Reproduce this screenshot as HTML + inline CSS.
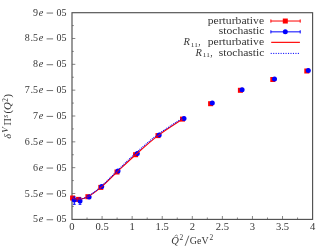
<!DOCTYPE html>
<html><head><meta charset="utf-8">
<style>
html,body{margin:0;padding:0;background:#fff;}
body{width:332px;height:249px;overflow:hidden;}
svg{display:block;will-change:transform;}
text{font-family:"Liberation Serif",serif;fill:#363636;}
.i{font-style:italic;}
</style></head><body>
<svg width="332" height="249" viewBox="0 0 332 249">
<rect width="332" height="249" fill="#fff"/>
<rect x="72.0" y="12.7" width="240.6" height="206.7" fill="none" stroke="#505050" stroke-width="1.15"/>
<path d="M72.0 38.49h3.3M72.0 64.33h3.3M72.0 90.16h3.3M72.0 116.00h3.3M72.0 141.84h3.3M72.0 167.67h3.3M72.0 193.51h3.3M72.0 25.57h1.8M72.0 51.41h1.8M72.0 77.24h1.8M72.0 103.08h1.8M72.0 128.92h1.8M72.0 154.76h1.8M72.0 180.59h1.8M72.0 206.43h1.8M102.08 219.3v-3.3M132.15 219.3v-3.3M162.23 219.3v-3.3M192.30 219.3v-3.3M222.38 219.3v-3.3M252.45 219.3v-3.3M282.53 219.3v-3.3M87.04 219.3v-1.8M117.11 219.3v-1.8M147.19 219.3v-1.8M177.26 219.3v-1.8M207.34 219.3v-1.8M237.41 219.3v-1.8M267.49 219.3v-1.8M297.56 219.3v-1.8" stroke="#5c5c5c" stroke-width="0.75" fill="none"/>
<g font-size="10.6">
<text x="33.1" y="15.65" textLength="5" lengthAdjust="spacingAndGlyphs">9</text>
<text x="38.7" y="15.65" class="i" font-size="10.3">e</text>
<path d="M46.6 13.05h6.5" stroke="#363636" stroke-width="0.7"/>
<text x="56.5" y="15.65" textLength="10" lengthAdjust="spacingAndGlyphs">05</text>
<text x="24.8" y="41.49" textLength="5" lengthAdjust="spacingAndGlyphs">8</text>
<text x="30.4" y="41.49">.</text>
<text x="33.1" y="41.49" textLength="5" lengthAdjust="spacingAndGlyphs">5</text>
<text x="38.7" y="41.49" class="i" font-size="10.3">e</text>
<path d="M46.6 38.89h6.5" stroke="#363636" stroke-width="0.7"/>
<text x="56.5" y="41.49" textLength="10" lengthAdjust="spacingAndGlyphs">05</text>
<text x="33.1" y="67.33" textLength="5" lengthAdjust="spacingAndGlyphs">8</text>
<text x="38.7" y="67.33" class="i" font-size="10.3">e</text>
<path d="M46.6 64.73h6.5" stroke="#363636" stroke-width="0.7"/>
<text x="56.5" y="67.33" textLength="10" lengthAdjust="spacingAndGlyphs">05</text>
<text x="24.8" y="93.16" textLength="5" lengthAdjust="spacingAndGlyphs">7</text>
<text x="30.4" y="93.16">.</text>
<text x="33.1" y="93.16" textLength="5" lengthAdjust="spacingAndGlyphs">5</text>
<text x="38.7" y="93.16" class="i" font-size="10.3">e</text>
<path d="M46.6 90.56h6.5" stroke="#363636" stroke-width="0.7"/>
<text x="56.5" y="93.16" textLength="10" lengthAdjust="spacingAndGlyphs">05</text>
<text x="33.1" y="119.00" textLength="5" lengthAdjust="spacingAndGlyphs">7</text>
<text x="38.7" y="119.00" class="i" font-size="10.3">e</text>
<path d="M46.6 116.40h6.5" stroke="#363636" stroke-width="0.7"/>
<text x="56.5" y="119.00" textLength="10" lengthAdjust="spacingAndGlyphs">05</text>
<text x="24.8" y="144.84" textLength="5" lengthAdjust="spacingAndGlyphs">6</text>
<text x="30.4" y="144.84">.</text>
<text x="33.1" y="144.84" textLength="5" lengthAdjust="spacingAndGlyphs">5</text>
<text x="38.7" y="144.84" class="i" font-size="10.3">e</text>
<path d="M46.6 142.24h6.5" stroke="#363636" stroke-width="0.7"/>
<text x="56.5" y="144.84" textLength="10" lengthAdjust="spacingAndGlyphs">05</text>
<text x="33.1" y="170.67" textLength="5" lengthAdjust="spacingAndGlyphs">6</text>
<text x="38.7" y="170.67" class="i" font-size="10.3">e</text>
<path d="M46.6 168.07h6.5" stroke="#363636" stroke-width="0.7"/>
<text x="56.5" y="170.67" textLength="10" lengthAdjust="spacingAndGlyphs">05</text>
<text x="24.8" y="196.51" textLength="5" lengthAdjust="spacingAndGlyphs">5</text>
<text x="30.4" y="196.51">.</text>
<text x="33.1" y="196.51" textLength="5" lengthAdjust="spacingAndGlyphs">5</text>
<text x="38.7" y="196.51" class="i" font-size="10.3">e</text>
<path d="M46.6 193.91h6.5" stroke="#363636" stroke-width="0.7"/>
<text x="56.5" y="196.51" textLength="10" lengthAdjust="spacingAndGlyphs">05</text>
<text x="33.1" y="222.35" textLength="5" lengthAdjust="spacingAndGlyphs">5</text>
<text x="38.7" y="222.35" class="i" font-size="10.3">e</text>
<path d="M46.6 219.75h6.5" stroke="#363636" stroke-width="0.7"/>
<text x="56.5" y="222.35" textLength="10" lengthAdjust="spacingAndGlyphs">05</text>
</g>
<g font-size="10.6" text-anchor="middle">
<text x="72.00" y="229.9">0</text>
<text x="102.08" y="229.9">0.5</text>
<text x="132.15" y="229.9">1</text>
<text x="162.23" y="229.9">1.5</text>
<text x="192.30" y="229.9">2</text>
<text x="222.38" y="229.9">2.5</text>
<text x="252.45" y="229.9">3</text>
<text x="282.53" y="229.9">3.5</text>
<text x="312.60" y="229.9">4</text>
</g>
<g font-size="10">
<text x="171.2" y="243.6" class="i" font-size="10.5">Q</text>
<path d="M174.6 236.3l1.7 -1.3l1.7 1.3" stroke="#363636" stroke-width="0.6" fill="none"/>
<text x="179.6" y="240.4" font-size="7.4">2</text>
<path d="M185.1 245.8L188.9 235.7" stroke="#363636" stroke-width="0.75" fill="none"/>
<text x="189.8" y="243.6" textLength="18.8" lengthAdjust="spacingAndGlyphs">GeV</text>
<text x="209.4" y="240.4" font-size="7.4">2</text>
</g>
<g transform="translate(11.2,138.7) rotate(-90)" font-size="10">
<text x="0" y="0" class="i" font-size="10.5" textLength="4.8" lengthAdjust="spacingAndGlyphs">δ</text>
<text x="5.9" y="-3.7" class="i" font-size="7.4" textLength="5.6" lengthAdjust="spacingAndGlyphs">V</text>
<text x="13.1" y="0" textLength="7.3" lengthAdjust="spacingAndGlyphs">Π</text>
<text x="20.9" y="-3.7" class="i" font-size="7.4">s</text>
<text x="25.2" y="0" font-size="10.5">(</text>
<text x="28.7" y="0" class="i" font-size="10.5" textLength="7.8" lengthAdjust="spacingAndGlyphs">Q</text>
<text x="37" y="-3.7" font-size="7.4">2</text>
<text x="41.2" y="0" font-size="10.5">)</text>
</g>
<g font-size="9.6">
<text x="207.7" y="23.90" textLength="56.4" lengthAdjust="spacingAndGlyphs">perturbative</text>
<text x="207.7" y="45.10" textLength="56.4" lengthAdjust="spacingAndGlyphs">perturbative</text>
<text x="218.7" y="34.40" textLength="45.8" lengthAdjust="spacingAndGlyphs">stochastic</text>
<text x="218.7" y="55.70" textLength="45.8" lengthAdjust="spacingAndGlyphs">stochastic</text>
<text x="198.3" y="45.10">,</text>
<text x="210.3" y="55.70">,</text>
</g>
<text x="183.6" y="45.10" class="i" font-size="10.5">R</text>
<text x="190.8" y="46.70" font-size="7" textLength="7" lengthAdjust="spacingAndGlyphs">11</text>
<text x="195.6" y="55.70" class="i" font-size="10.5">R</text>
<text x="202.8" y="57.30" font-size="7" textLength="7" lengthAdjust="spacingAndGlyphs">11</text>
<g stroke="#f00" stroke-width="1" fill="none">
<path d="M270.9 21.03H300.2M270.9 19.43v3.2M300.2 19.43v3.2"/>
<path d="M271.2 42.35H299.9" stroke-width="1.15"/>
</g>
<rect x="282.80" y="18.53" width="5" height="5" fill="#f00"/>
<g stroke="#00f" stroke-width="1" fill="none">
<path d="M270.9 31.85H300.2M270.9 30.25v3.2M300.2 30.25v3.2"/>
<path d="M270.7 53.40H299.3" stroke-dasharray="1.1 1.37"/>
</g>
<circle cx="285.3" cy="31.85" r="2.5" fill="#00f"/>
<g fill="#f00">
<rect x="70.10" y="195.50" width="5" height="5"/>
<rect x="76.10" y="196.90" width="5" height="5"/>
<rect x="85.40" y="194.20" width="5" height="5"/>
<rect x="98.30" y="184.90" width="5" height="5"/>
<rect x="114.50" y="169.50" width="5" height="5"/>
<rect x="133.10" y="152.20" width="5" height="5"/>
<rect x="155.50" y="133.10" width="5" height="5"/>
<rect x="180.00" y="116.60" width="5" height="5"/>
<rect x="208.10" y="101.20" width="5" height="5"/>
<rect x="237.90" y="87.80" width="5" height="5"/>
<rect x="270.30" y="77.00" width="5" height="5"/>
<rect x="304.30" y="68.50" width="5" height="5"/>
</g>
<g stroke="#00f" stroke-width="1" fill="none">
<path d="M74.3 197v7.3M72.9 204.3h2.8M72.9 197h2.8"/>
<path d="M80 198v6.3M78.6 204.3h2.8M78.6 198h2.8"/>
</g>
<g fill="#00f">
<circle cx="74.30" cy="200.10" r="2.5"/>
<circle cx="80.00" cy="201.00" r="2.5"/>
<circle cx="89.10" cy="197.00" r="2.5"/>
<circle cx="101.70" cy="186.60" r="2.5"/>
<circle cx="118.00" cy="171.10" r="2.5"/>
<circle cx="137.30" cy="153.60" r="2.5"/>
<circle cx="159.20" cy="134.90" r="2.5"/>
<circle cx="184.00" cy="118.50" r="2.5"/>
<circle cx="212.30" cy="102.90" r="2.5"/>
<circle cx="242.10" cy="89.80" r="2.5"/>
<circle cx="274.50" cy="78.90" r="2.5"/>
<circle cx="308.30" cy="70.40" r="2.5"/>
</g>
<path d="M72.60 198.00C73.60 198.23,76.05 199.62,78.60 199.40C81.15 199.18,84.20 198.70,87.90 196.70C91.60 194.70,95.95 191.52,100.80 187.40C105.65 183.28,111.20 177.45,117.00 172.00C122.80 166.55,128.77 160.77,135.60 154.70C142.43 148.63,150.18 141.53,158.00 135.60C165.82 129.67,178.42 121.85,182.50 119.10" fill="none" stroke="#f00" stroke-width="1.15"/>
<path d="M72.54 197.92C73.54 198.16,76.01 199.56,78.54 199.32C81.07 199.08,84.05 198.51,87.71 196.47C91.38 194.42,95.71 191.21,100.52 187.05C105.33 182.89,110.86 177.03,116.60 171.49C122.33 165.96,128.12 159.95,134.92 153.84C141.72 147.74,149.56 140.75,157.41 134.86C165.26 128.97,177.93 121.24,182.03 118.52" fill="none" stroke="#00f" stroke-width="1.1" stroke-dasharray="1 1"/>
</svg>
</body></html>
